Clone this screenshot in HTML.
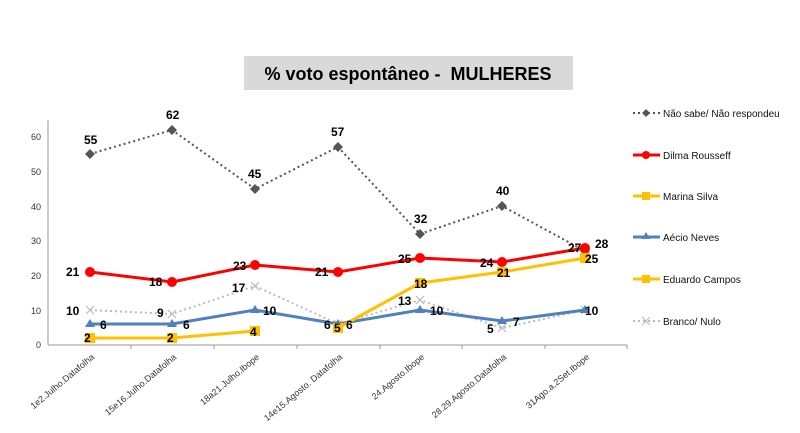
<!DOCTYPE html>
<html><head><meta charset="utf-8"><style>
body{margin:0;background:#fff;}
svg text{font-family:"Liberation Sans",Arial,sans-serif;}
.l{font-weight:bold;font-size:12px;fill:#000}
.t{font-size:9px;fill:#333}
.g{font-size:10px;fill:#111}
</style></head><body>
<svg width="800" height="428" xmlns="http://www.w3.org/2000/svg">
<rect x="244" y="56" width="329" height="34" fill="#d9d9d9"/>
<text x="408" y="80" text-anchor="middle" font-size="18" font-weight="bold" fill="#000">% voto espontâneo -&#160; MULHERES</text>
<line x1="48" y1="120" x2="48" y2="345" stroke="#999"/>
<line x1="48" y1="345" x2="627" y2="345" stroke="#999"/>
<g stroke="#999"><line x1="131" y1="345" x2="131" y2="349"/><line x1="214" y1="345" x2="214" y2="349"/><line x1="297" y1="345" x2="297" y2="349"/><line x1="380" y1="345" x2="380" y2="349"/><line x1="462" y1="345" x2="462" y2="349"/><line x1="545" y1="345" x2="545" y2="349"/><line x1="627" y1="345" x2="627" y2="349"/></g>
<g class="t" text-anchor="end">
<text x="41" y="348">0</text><text x="41" y="314">10</text><text x="41" y="279">20</text><text x="41" y="244">30</text><text x="41" y="210">40</text><text x="41" y="175">50</text><text x="41" y="140">60</text></g>
<g class="t">
<text transform="translate(95,358) rotate(-40)" text-anchor="end">1e2.Julho.Datafolha</text>
<text transform="translate(177,358) rotate(-40)" text-anchor="end">15e16.Julho.Datafolha</text>
<text transform="translate(260,358) rotate(-40)" text-anchor="end">18a21.Julho.Ibope</text>
<text transform="translate(343,358) rotate(-40)" text-anchor="end">14e15.Agosto. Datafolha</text>
<text transform="translate(425,358) rotate(-40)" text-anchor="end">24.Agosto.Ibope</text>
<text transform="translate(507,358) rotate(-40)" text-anchor="end">28.29.Agosto.Datafolha</text>
<text transform="translate(590,358) rotate(-40)" text-anchor="end">31Ago.a.2Set.Ibope</text></g>
<polyline points="90,310 172,314 255,286 338,324 420,300 502,328 585,310" fill="none" stroke="#bbb" stroke-width="2" stroke-dasharray="2,3"/>
<g stroke="#bbb" stroke-width="1.2"><path d="M86,306l8,8M94,306l-8,8M168,310l8,8M176,310l-8,8M251,282l8,8M259,282l-8,8M334,320l8,8M342,320l-8,8M416,296l8,8M424,296l-8,8M498,324l8,8M506,324l-8,8M581,306l8,8M589,306l-8,8"/></g>
<polyline points="90,154 172,130 255,189 338,147 420,234 502,206 585,251" fill="none" stroke="#555" stroke-width="2" stroke-dasharray="2,3"/>
<g fill="#555"><path d="M90,149l5,5-5,5-5-5z M172,125l5,5-5,5-5-5z M255,184l5,5-5,5-5-5z M338,142l5,5-5,5-5-5z M420,229l5,5-5,5-5-5z M502,201l5,5-5,5-5-5z M585,246l5,5-5,5-5-5z"/></g>
<polyline points="90,324 172,324 255,310 338,324 420,310 502,321 585,310" fill="none" stroke="#4f81bd" stroke-width="3"/>
<g fill="#4f81bd"><path d="M90,319l5,8h-10z M172,319l5,8h-10z M255,305l5,8h-10z M338,319l5,8h-10z M420,305l5,8h-10z M502,316l5,8h-10z M585,305l5,8h-10z"/></g>
<polyline points="90,338 172,338 255,331" fill="none" stroke="#ffc000" stroke-width="3"/>
<polyline points="338,328 420,283 502,272 585,258" fill="none" stroke="#ffc000" stroke-width="3"/>
<g fill="#ffc000"><rect x="85" y="333" width="10" height="10"/><rect x="167" y="333" width="10" height="10"/><rect x="250" y="326" width="10" height="10"/><rect x="333" y="323" width="10" height="10"/><rect x="415" y="278" width="10" height="10"/><rect x="497" y="267" width="10" height="10"/><rect x="580" y="253" width="10" height="10"/></g>
<polyline points="90,272 172,282 255,265 338,272 420,258 502,262 585,248" fill="none" stroke="#f00" stroke-width="3"/>
<g fill="#f00"><circle cx="90" cy="272" r="5"/><circle cx="172" cy="282" r="5"/><circle cx="255" cy="265" r="5"/><circle cx="338" cy="272" r="5"/><circle cx="420" cy="258" r="5"/><circle cx="502" cy="262" r="5"/><circle cx="585" cy="248" r="5"/></g>
<g class="l">
<text x="84" y="144">55</text><text x="166" y="119">62</text><text x="248" y="178">45</text><text x="331" y="136">57</text><text x="414" y="223">32</text><text x="496" y="195">40</text><text x="568" y="252">27</text><text x="595" y="248">28</text>
<text x="66" y="276">21</text><text x="149" y="286">18</text><text x="233" y="270">23</text><text x="315" y="276">21</text><text x="398" y="263">25</text><text x="480" y="267">24</text>
<text x="84" y="342">2</text><text x="167" y="342">2</text><text x="250" y="336">4</text><text x="334" y="332">5</text><text x="414" y="288">18</text><text x="497" y="277">21</text><text x="585" y="263">25</text>
<text x="100" y="329">6</text><text x="183" y="329">6</text><text x="263" y="315">10</text><text x="324" y="329">6</text><text x="346" y="329">6</text><text x="430" y="315">10</text><text x="513" y="326">7</text><text x="585" y="315">10</text>
<text x="66" y="315">10</text><text x="157" y="317">9</text><text x="232" y="292">17</text><text x="398" y="305">13</text><text x="487" y="333">5</text>
</g>
<g>
<line x1="633" y1="113" x2="660" y2="113" stroke="#555" stroke-width="2" stroke-dasharray="2,3"/><path d="M646,109l4,4-4,4-4-4z" fill="#555"/>
<text class="g" x="663" y="117">Não sabe/ Não respondeu</text>
<line x1="633" y1="155" x2="660" y2="155" stroke="#f00" stroke-width="3"/><circle cx="646" cy="155" r="4" fill="#f00"/>
<text class="g" x="663" y="159">Dilma Rousseff</text>
<line x1="633" y1="196" x2="660" y2="196" stroke="#ffc000" stroke-width="3"/><rect x="642" y="192" width="8" height="8" fill="#ffc000"/>
<text class="g" x="663" y="200">Marina Silva</text>
<line x1="633" y1="237" x2="660" y2="237" stroke="#4f81bd" stroke-width="3"/><path d="M646,232l4,7h-8z" fill="#4f81bd"/>
<text class="g" x="663" y="241">Aécio Neves</text>
<line x1="633" y1="279" x2="660" y2="279" stroke="#ffc000" stroke-width="3"/><rect x="642" y="275" width="8" height="8" fill="#ffc000"/>
<text class="g" x="663" y="283">Eduardo Campos</text>
<line x1="633" y1="321" x2="660" y2="321" stroke="#bbb" stroke-width="2" stroke-dasharray="2,3"/><path d="M642,317l8,8M650,317l-8,8" stroke="#bbb"/>
<text class="g" x="663" y="325">Branco/ Nulo</text>
</g>
</svg>
</body></html>
